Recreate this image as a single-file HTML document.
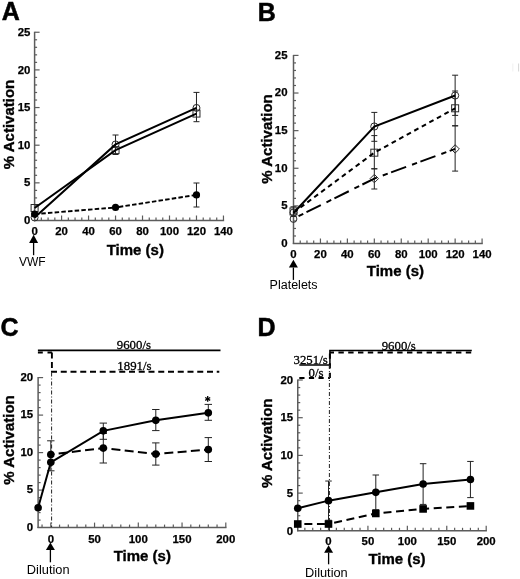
<!DOCTYPE html>
<html><head><meta charset="utf-8"><style>
html,body{margin:0;padding:0;background:#fff;}
body{width:520px;height:579px;overflow:hidden;font-family:"Liberation Sans",sans-serif;}
svg{display:block;filter:blur(0.3px);}
</style></head><body>
<svg width="520" height="579" viewBox="0 0 520 579">
<rect width="520" height="579" fill="#fff"/>
<line x1="34.60" y1="221.00" x2="34.60" y2="31.75" stroke="#5c5c5c" stroke-width="1.5" stroke-linecap="butt"/>
<line x1="34.60" y1="212.97" x2="37.10" y2="212.97" stroke="#5c5c5c" stroke-width="1.2" stroke-linecap="butt"/>
<line x1="34.60" y1="205.44" x2="37.10" y2="205.44" stroke="#5c5c5c" stroke-width="1.2" stroke-linecap="butt"/>
<line x1="34.60" y1="197.91" x2="37.10" y2="197.91" stroke="#5c5c5c" stroke-width="1.2" stroke-linecap="butt"/>
<line x1="34.60" y1="190.38" x2="37.10" y2="190.38" stroke="#5c5c5c" stroke-width="1.2" stroke-linecap="butt"/>
<line x1="34.60" y1="182.85" x2="39.60" y2="182.85" stroke="#5c5c5c" stroke-width="1.2" stroke-linecap="butt"/>
<line x1="34.60" y1="175.32" x2="37.10" y2="175.32" stroke="#5c5c5c" stroke-width="1.2" stroke-linecap="butt"/>
<line x1="34.60" y1="167.79" x2="37.10" y2="167.79" stroke="#5c5c5c" stroke-width="1.2" stroke-linecap="butt"/>
<line x1="34.60" y1="160.26" x2="37.10" y2="160.26" stroke="#5c5c5c" stroke-width="1.2" stroke-linecap="butt"/>
<line x1="34.60" y1="152.73" x2="37.10" y2="152.73" stroke="#5c5c5c" stroke-width="1.2" stroke-linecap="butt"/>
<line x1="34.60" y1="145.20" x2="39.60" y2="145.20" stroke="#5c5c5c" stroke-width="1.2" stroke-linecap="butt"/>
<line x1="34.60" y1="137.67" x2="37.10" y2="137.67" stroke="#5c5c5c" stroke-width="1.2" stroke-linecap="butt"/>
<line x1="34.60" y1="130.14" x2="37.10" y2="130.14" stroke="#5c5c5c" stroke-width="1.2" stroke-linecap="butt"/>
<line x1="34.60" y1="122.61" x2="37.10" y2="122.61" stroke="#5c5c5c" stroke-width="1.2" stroke-linecap="butt"/>
<line x1="34.60" y1="115.08" x2="37.10" y2="115.08" stroke="#5c5c5c" stroke-width="1.2" stroke-linecap="butt"/>
<line x1="34.60" y1="107.55" x2="39.60" y2="107.55" stroke="#5c5c5c" stroke-width="1.2" stroke-linecap="butt"/>
<line x1="34.60" y1="100.02" x2="37.10" y2="100.02" stroke="#5c5c5c" stroke-width="1.2" stroke-linecap="butt"/>
<line x1="34.60" y1="92.49" x2="37.10" y2="92.49" stroke="#5c5c5c" stroke-width="1.2" stroke-linecap="butt"/>
<line x1="34.60" y1="84.96" x2="37.10" y2="84.96" stroke="#5c5c5c" stroke-width="1.2" stroke-linecap="butt"/>
<line x1="34.60" y1="77.43" x2="37.10" y2="77.43" stroke="#5c5c5c" stroke-width="1.2" stroke-linecap="butt"/>
<line x1="34.60" y1="69.90" x2="39.60" y2="69.90" stroke="#5c5c5c" stroke-width="1.2" stroke-linecap="butt"/>
<line x1="34.60" y1="62.37" x2="37.10" y2="62.37" stroke="#5c5c5c" stroke-width="1.2" stroke-linecap="butt"/>
<line x1="34.60" y1="54.84" x2="37.10" y2="54.84" stroke="#5c5c5c" stroke-width="1.2" stroke-linecap="butt"/>
<line x1="34.60" y1="47.31" x2="37.10" y2="47.31" stroke="#5c5c5c" stroke-width="1.2" stroke-linecap="butt"/>
<line x1="34.60" y1="39.78" x2="37.10" y2="39.78" stroke="#5c5c5c" stroke-width="1.2" stroke-linecap="butt"/>
<line x1="34.60" y1="32.25" x2="39.60" y2="32.25" stroke="#5c5c5c" stroke-width="1.2" stroke-linecap="butt"/>
<line x1="33.90" y1="220.50" x2="224.16" y2="220.50" stroke="#5c5c5c" stroke-width="1.5" stroke-linecap="butt"/>
<line x1="41.34" y1="220.50" x2="41.34" y2="217.50" stroke="#5c5c5c" stroke-width="1.2" stroke-linecap="butt"/>
<line x1="48.09" y1="220.50" x2="48.09" y2="217.50" stroke="#5c5c5c" stroke-width="1.2" stroke-linecap="butt"/>
<line x1="54.84" y1="220.50" x2="54.84" y2="217.50" stroke="#5c5c5c" stroke-width="1.2" stroke-linecap="butt"/>
<line x1="61.58" y1="220.50" x2="61.58" y2="215.50" stroke="#5c5c5c" stroke-width="1.2" stroke-linecap="butt"/>
<line x1="68.33" y1="220.50" x2="68.33" y2="217.50" stroke="#5c5c5c" stroke-width="1.2" stroke-linecap="butt"/>
<line x1="75.07" y1="220.50" x2="75.07" y2="217.50" stroke="#5c5c5c" stroke-width="1.2" stroke-linecap="butt"/>
<line x1="81.81" y1="220.50" x2="81.81" y2="217.50" stroke="#5c5c5c" stroke-width="1.2" stroke-linecap="butt"/>
<line x1="88.56" y1="220.50" x2="88.56" y2="215.50" stroke="#5c5c5c" stroke-width="1.2" stroke-linecap="butt"/>
<line x1="95.31" y1="220.50" x2="95.31" y2="217.50" stroke="#5c5c5c" stroke-width="1.2" stroke-linecap="butt"/>
<line x1="102.05" y1="220.50" x2="102.05" y2="217.50" stroke="#5c5c5c" stroke-width="1.2" stroke-linecap="butt"/>
<line x1="108.79" y1="220.50" x2="108.79" y2="217.50" stroke="#5c5c5c" stroke-width="1.2" stroke-linecap="butt"/>
<line x1="115.54" y1="220.50" x2="115.54" y2="215.50" stroke="#5c5c5c" stroke-width="1.2" stroke-linecap="butt"/>
<line x1="122.28" y1="220.50" x2="122.28" y2="217.50" stroke="#5c5c5c" stroke-width="1.2" stroke-linecap="butt"/>
<line x1="129.03" y1="220.50" x2="129.03" y2="217.50" stroke="#5c5c5c" stroke-width="1.2" stroke-linecap="butt"/>
<line x1="135.78" y1="220.50" x2="135.78" y2="217.50" stroke="#5c5c5c" stroke-width="1.2" stroke-linecap="butt"/>
<line x1="142.52" y1="220.50" x2="142.52" y2="215.50" stroke="#5c5c5c" stroke-width="1.2" stroke-linecap="butt"/>
<line x1="149.26" y1="220.50" x2="149.26" y2="217.50" stroke="#5c5c5c" stroke-width="1.2" stroke-linecap="butt"/>
<line x1="156.01" y1="220.50" x2="156.01" y2="217.50" stroke="#5c5c5c" stroke-width="1.2" stroke-linecap="butt"/>
<line x1="162.75" y1="220.50" x2="162.75" y2="217.50" stroke="#5c5c5c" stroke-width="1.2" stroke-linecap="butt"/>
<line x1="169.50" y1="220.50" x2="169.50" y2="215.50" stroke="#5c5c5c" stroke-width="1.2" stroke-linecap="butt"/>
<line x1="176.25" y1="220.50" x2="176.25" y2="217.50" stroke="#5c5c5c" stroke-width="1.2" stroke-linecap="butt"/>
<line x1="182.99" y1="220.50" x2="182.99" y2="217.50" stroke="#5c5c5c" stroke-width="1.2" stroke-linecap="butt"/>
<line x1="189.73" y1="220.50" x2="189.73" y2="217.50" stroke="#5c5c5c" stroke-width="1.2" stroke-linecap="butt"/>
<line x1="196.48" y1="220.50" x2="196.48" y2="215.50" stroke="#5c5c5c" stroke-width="1.2" stroke-linecap="butt"/>
<line x1="203.22" y1="220.50" x2="203.22" y2="217.50" stroke="#5c5c5c" stroke-width="1.2" stroke-linecap="butt"/>
<line x1="209.97" y1="220.50" x2="209.97" y2="217.50" stroke="#5c5c5c" stroke-width="1.2" stroke-linecap="butt"/>
<line x1="216.72" y1="220.50" x2="216.72" y2="217.50" stroke="#5c5c5c" stroke-width="1.2" stroke-linecap="butt"/>
<line x1="223.46" y1="220.50" x2="223.46" y2="215.50" stroke="#5c5c5c" stroke-width="1.2" stroke-linecap="butt"/>
<text x="34.60" y="234.80" font-family="Liberation Sans, sans-serif" font-size="11.4" font-weight="bold" text-anchor="middle" stroke="#000" stroke-width="0.25">0</text>
<text x="61.58" y="234.80" font-family="Liberation Sans, sans-serif" font-size="11.4" font-weight="bold" text-anchor="middle" stroke="#000" stroke-width="0.25">20</text>
<text x="88.56" y="234.80" font-family="Liberation Sans, sans-serif" font-size="11.4" font-weight="bold" text-anchor="middle" stroke="#000" stroke-width="0.25">40</text>
<text x="115.54" y="234.80" font-family="Liberation Sans, sans-serif" font-size="11.4" font-weight="bold" text-anchor="middle" stroke="#000" stroke-width="0.25">60</text>
<text x="142.52" y="234.80" font-family="Liberation Sans, sans-serif" font-size="11.4" font-weight="bold" text-anchor="middle" stroke="#000" stroke-width="0.25">80</text>
<text x="169.50" y="234.80" font-family="Liberation Sans, sans-serif" font-size="11.4" font-weight="bold" text-anchor="middle" stroke="#000" stroke-width="0.25">100</text>
<text x="196.48" y="234.80" font-family="Liberation Sans, sans-serif" font-size="11.4" font-weight="bold" text-anchor="middle" stroke="#000" stroke-width="0.25">120</text>
<text x="223.46" y="234.80" font-family="Liberation Sans, sans-serif" font-size="11.4" font-weight="bold" text-anchor="middle" stroke="#000" stroke-width="0.25">140</text>
<text x="30.30" y="224.10" font-family="Liberation Sans, sans-serif" font-size="11.4" font-weight="bold" text-anchor="end" stroke="#000" stroke-width="0.25">0</text>
<text x="30.30" y="186.45" font-family="Liberation Sans, sans-serif" font-size="11.4" font-weight="bold" text-anchor="end" stroke="#000" stroke-width="0.25">5</text>
<text x="30.30" y="148.80" font-family="Liberation Sans, sans-serif" font-size="11.4" font-weight="bold" text-anchor="end" stroke="#000" stroke-width="0.25">10</text>
<text x="30.30" y="111.15" font-family="Liberation Sans, sans-serif" font-size="11.4" font-weight="bold" text-anchor="end" stroke="#000" stroke-width="0.25">15</text>
<text x="30.30" y="73.50" font-family="Liberation Sans, sans-serif" font-size="11.4" font-weight="bold" text-anchor="end" stroke="#000" stroke-width="0.25">20</text>
<text x="30.30" y="35.85" font-family="Liberation Sans, sans-serif" font-size="11.4" font-weight="bold" text-anchor="end" stroke="#000" stroke-width="0.25">25</text>
<line x1="293.50" y1="244.00" x2="293.50" y2="54.90" stroke="#5c5c5c" stroke-width="1.5" stroke-linecap="butt"/>
<line x1="293.50" y1="235.98" x2="296.00" y2="235.98" stroke="#5c5c5c" stroke-width="1.2" stroke-linecap="butt"/>
<line x1="293.50" y1="228.45" x2="296.00" y2="228.45" stroke="#5c5c5c" stroke-width="1.2" stroke-linecap="butt"/>
<line x1="293.50" y1="220.93" x2="296.00" y2="220.93" stroke="#5c5c5c" stroke-width="1.2" stroke-linecap="butt"/>
<line x1="293.50" y1="213.40" x2="296.00" y2="213.40" stroke="#5c5c5c" stroke-width="1.2" stroke-linecap="butt"/>
<line x1="293.50" y1="205.88" x2="298.50" y2="205.88" stroke="#5c5c5c" stroke-width="1.2" stroke-linecap="butt"/>
<line x1="293.50" y1="198.36" x2="296.00" y2="198.36" stroke="#5c5c5c" stroke-width="1.2" stroke-linecap="butt"/>
<line x1="293.50" y1="190.83" x2="296.00" y2="190.83" stroke="#5c5c5c" stroke-width="1.2" stroke-linecap="butt"/>
<line x1="293.50" y1="183.31" x2="296.00" y2="183.31" stroke="#5c5c5c" stroke-width="1.2" stroke-linecap="butt"/>
<line x1="293.50" y1="175.78" x2="296.00" y2="175.78" stroke="#5c5c5c" stroke-width="1.2" stroke-linecap="butt"/>
<line x1="293.50" y1="168.26" x2="298.50" y2="168.26" stroke="#5c5c5c" stroke-width="1.2" stroke-linecap="butt"/>
<line x1="293.50" y1="160.74" x2="296.00" y2="160.74" stroke="#5c5c5c" stroke-width="1.2" stroke-linecap="butt"/>
<line x1="293.50" y1="153.21" x2="296.00" y2="153.21" stroke="#5c5c5c" stroke-width="1.2" stroke-linecap="butt"/>
<line x1="293.50" y1="145.69" x2="296.00" y2="145.69" stroke="#5c5c5c" stroke-width="1.2" stroke-linecap="butt"/>
<line x1="293.50" y1="138.16" x2="296.00" y2="138.16" stroke="#5c5c5c" stroke-width="1.2" stroke-linecap="butt"/>
<line x1="293.50" y1="130.64" x2="298.50" y2="130.64" stroke="#5c5c5c" stroke-width="1.2" stroke-linecap="butt"/>
<line x1="293.50" y1="123.12" x2="296.00" y2="123.12" stroke="#5c5c5c" stroke-width="1.2" stroke-linecap="butt"/>
<line x1="293.50" y1="115.59" x2="296.00" y2="115.59" stroke="#5c5c5c" stroke-width="1.2" stroke-linecap="butt"/>
<line x1="293.50" y1="108.07" x2="296.00" y2="108.07" stroke="#5c5c5c" stroke-width="1.2" stroke-linecap="butt"/>
<line x1="293.50" y1="100.54" x2="296.00" y2="100.54" stroke="#5c5c5c" stroke-width="1.2" stroke-linecap="butt"/>
<line x1="293.50" y1="93.02" x2="298.50" y2="93.02" stroke="#5c5c5c" stroke-width="1.2" stroke-linecap="butt"/>
<line x1="293.50" y1="85.50" x2="296.00" y2="85.50" stroke="#5c5c5c" stroke-width="1.2" stroke-linecap="butt"/>
<line x1="293.50" y1="77.97" x2="296.00" y2="77.97" stroke="#5c5c5c" stroke-width="1.2" stroke-linecap="butt"/>
<line x1="293.50" y1="70.45" x2="296.00" y2="70.45" stroke="#5c5c5c" stroke-width="1.2" stroke-linecap="butt"/>
<line x1="293.50" y1="62.92" x2="296.00" y2="62.92" stroke="#5c5c5c" stroke-width="1.2" stroke-linecap="butt"/>
<line x1="293.50" y1="55.40" x2="298.50" y2="55.40" stroke="#5c5c5c" stroke-width="1.2" stroke-linecap="butt"/>
<line x1="292.80" y1="243.50" x2="482.78" y2="243.50" stroke="#5c5c5c" stroke-width="1.5" stroke-linecap="butt"/>
<line x1="300.24" y1="243.50" x2="300.24" y2="240.50" stroke="#5c5c5c" stroke-width="1.2" stroke-linecap="butt"/>
<line x1="306.97" y1="243.50" x2="306.97" y2="240.50" stroke="#5c5c5c" stroke-width="1.2" stroke-linecap="butt"/>
<line x1="313.70" y1="243.50" x2="313.70" y2="240.50" stroke="#5c5c5c" stroke-width="1.2" stroke-linecap="butt"/>
<line x1="320.44" y1="243.50" x2="320.44" y2="238.50" stroke="#5c5c5c" stroke-width="1.2" stroke-linecap="butt"/>
<line x1="327.18" y1="243.50" x2="327.18" y2="240.50" stroke="#5c5c5c" stroke-width="1.2" stroke-linecap="butt"/>
<line x1="333.91" y1="243.50" x2="333.91" y2="240.50" stroke="#5c5c5c" stroke-width="1.2" stroke-linecap="butt"/>
<line x1="340.64" y1="243.50" x2="340.64" y2="240.50" stroke="#5c5c5c" stroke-width="1.2" stroke-linecap="butt"/>
<line x1="347.38" y1="243.50" x2="347.38" y2="238.50" stroke="#5c5c5c" stroke-width="1.2" stroke-linecap="butt"/>
<line x1="354.12" y1="243.50" x2="354.12" y2="240.50" stroke="#5c5c5c" stroke-width="1.2" stroke-linecap="butt"/>
<line x1="360.85" y1="243.50" x2="360.85" y2="240.50" stroke="#5c5c5c" stroke-width="1.2" stroke-linecap="butt"/>
<line x1="367.58" y1="243.50" x2="367.58" y2="240.50" stroke="#5c5c5c" stroke-width="1.2" stroke-linecap="butt"/>
<line x1="374.32" y1="243.50" x2="374.32" y2="238.50" stroke="#5c5c5c" stroke-width="1.2" stroke-linecap="butt"/>
<line x1="381.06" y1="243.50" x2="381.06" y2="240.50" stroke="#5c5c5c" stroke-width="1.2" stroke-linecap="butt"/>
<line x1="387.79" y1="243.50" x2="387.79" y2="240.50" stroke="#5c5c5c" stroke-width="1.2" stroke-linecap="butt"/>
<line x1="394.52" y1="243.50" x2="394.52" y2="240.50" stroke="#5c5c5c" stroke-width="1.2" stroke-linecap="butt"/>
<line x1="401.26" y1="243.50" x2="401.26" y2="238.50" stroke="#5c5c5c" stroke-width="1.2" stroke-linecap="butt"/>
<line x1="408.00" y1="243.50" x2="408.00" y2="240.50" stroke="#5c5c5c" stroke-width="1.2" stroke-linecap="butt"/>
<line x1="414.73" y1="243.50" x2="414.73" y2="240.50" stroke="#5c5c5c" stroke-width="1.2" stroke-linecap="butt"/>
<line x1="421.47" y1="243.50" x2="421.47" y2="240.50" stroke="#5c5c5c" stroke-width="1.2" stroke-linecap="butt"/>
<line x1="428.20" y1="243.50" x2="428.20" y2="238.50" stroke="#5c5c5c" stroke-width="1.2" stroke-linecap="butt"/>
<line x1="434.94" y1="243.50" x2="434.94" y2="240.50" stroke="#5c5c5c" stroke-width="1.2" stroke-linecap="butt"/>
<line x1="441.67" y1="243.50" x2="441.67" y2="240.50" stroke="#5c5c5c" stroke-width="1.2" stroke-linecap="butt"/>
<line x1="448.40" y1="243.50" x2="448.40" y2="240.50" stroke="#5c5c5c" stroke-width="1.2" stroke-linecap="butt"/>
<line x1="455.14" y1="243.50" x2="455.14" y2="238.50" stroke="#5c5c5c" stroke-width="1.2" stroke-linecap="butt"/>
<line x1="461.88" y1="243.50" x2="461.88" y2="240.50" stroke="#5c5c5c" stroke-width="1.2" stroke-linecap="butt"/>
<line x1="468.61" y1="243.50" x2="468.61" y2="240.50" stroke="#5c5c5c" stroke-width="1.2" stroke-linecap="butt"/>
<line x1="475.35" y1="243.50" x2="475.35" y2="240.50" stroke="#5c5c5c" stroke-width="1.2" stroke-linecap="butt"/>
<line x1="482.08" y1="243.50" x2="482.08" y2="238.50" stroke="#5c5c5c" stroke-width="1.2" stroke-linecap="butt"/>
<text x="293.50" y="257.90" font-family="Liberation Sans, sans-serif" font-size="11.4" font-weight="bold" text-anchor="middle" stroke="#000" stroke-width="0.25">0</text>
<text x="320.44" y="257.90" font-family="Liberation Sans, sans-serif" font-size="11.4" font-weight="bold" text-anchor="middle" stroke="#000" stroke-width="0.25">20</text>
<text x="347.38" y="257.90" font-family="Liberation Sans, sans-serif" font-size="11.4" font-weight="bold" text-anchor="middle" stroke="#000" stroke-width="0.25">40</text>
<text x="374.32" y="257.90" font-family="Liberation Sans, sans-serif" font-size="11.4" font-weight="bold" text-anchor="middle" stroke="#000" stroke-width="0.25">60</text>
<text x="401.26" y="257.90" font-family="Liberation Sans, sans-serif" font-size="11.4" font-weight="bold" text-anchor="middle" stroke="#000" stroke-width="0.25">80</text>
<text x="428.20" y="257.90" font-family="Liberation Sans, sans-serif" font-size="11.4" font-weight="bold" text-anchor="middle" stroke="#000" stroke-width="0.25">100</text>
<text x="455.14" y="257.90" font-family="Liberation Sans, sans-serif" font-size="11.4" font-weight="bold" text-anchor="middle" stroke="#000" stroke-width="0.25">120</text>
<text x="482.08" y="257.90" font-family="Liberation Sans, sans-serif" font-size="11.4" font-weight="bold" text-anchor="middle" stroke="#000" stroke-width="0.25">140</text>
<text x="287.50" y="246.80" font-family="Liberation Sans, sans-serif" font-size="11.4" font-weight="bold" text-anchor="end" stroke="#000" stroke-width="0.25">0</text>
<text x="287.50" y="209.18" font-family="Liberation Sans, sans-serif" font-size="11.4" font-weight="bold" text-anchor="end" stroke="#000" stroke-width="0.25">5</text>
<text x="287.50" y="171.56" font-family="Liberation Sans, sans-serif" font-size="11.4" font-weight="bold" text-anchor="end" stroke="#000" stroke-width="0.25">10</text>
<text x="287.50" y="133.94" font-family="Liberation Sans, sans-serif" font-size="11.4" font-weight="bold" text-anchor="end" stroke="#000" stroke-width="0.25">15</text>
<text x="287.50" y="96.32" font-family="Liberation Sans, sans-serif" font-size="11.4" font-weight="bold" text-anchor="end" stroke="#000" stroke-width="0.25">20</text>
<text x="287.50" y="58.70" font-family="Liberation Sans, sans-serif" font-size="11.4" font-weight="bold" text-anchor="end" stroke="#000" stroke-width="0.25">25</text>
<line x1="38.11" y1="528.10" x2="38.11" y2="377.10" stroke="#5c5c5c" stroke-width="1.5" stroke-linecap="butt"/>
<line x1="38.11" y1="520.10" x2="40.61" y2="520.10" stroke="#5c5c5c" stroke-width="1.2" stroke-linecap="butt"/>
<line x1="38.11" y1="512.60" x2="40.61" y2="512.60" stroke="#5c5c5c" stroke-width="1.2" stroke-linecap="butt"/>
<line x1="38.11" y1="505.10" x2="40.61" y2="505.10" stroke="#5c5c5c" stroke-width="1.2" stroke-linecap="butt"/>
<line x1="38.11" y1="497.60" x2="40.61" y2="497.60" stroke="#5c5c5c" stroke-width="1.2" stroke-linecap="butt"/>
<line x1="38.11" y1="490.10" x2="43.11" y2="490.10" stroke="#5c5c5c" stroke-width="1.2" stroke-linecap="butt"/>
<line x1="38.11" y1="482.60" x2="40.61" y2="482.60" stroke="#5c5c5c" stroke-width="1.2" stroke-linecap="butt"/>
<line x1="38.11" y1="475.10" x2="40.61" y2="475.10" stroke="#5c5c5c" stroke-width="1.2" stroke-linecap="butt"/>
<line x1="38.11" y1="467.60" x2="40.61" y2="467.60" stroke="#5c5c5c" stroke-width="1.2" stroke-linecap="butt"/>
<line x1="38.11" y1="460.10" x2="40.61" y2="460.10" stroke="#5c5c5c" stroke-width="1.2" stroke-linecap="butt"/>
<line x1="38.11" y1="452.60" x2="43.11" y2="452.60" stroke="#5c5c5c" stroke-width="1.2" stroke-linecap="butt"/>
<line x1="38.11" y1="445.10" x2="40.61" y2="445.10" stroke="#5c5c5c" stroke-width="1.2" stroke-linecap="butt"/>
<line x1="38.11" y1="437.60" x2="40.61" y2="437.60" stroke="#5c5c5c" stroke-width="1.2" stroke-linecap="butt"/>
<line x1="38.11" y1="430.10" x2="40.61" y2="430.10" stroke="#5c5c5c" stroke-width="1.2" stroke-linecap="butt"/>
<line x1="38.11" y1="422.60" x2="40.61" y2="422.60" stroke="#5c5c5c" stroke-width="1.2" stroke-linecap="butt"/>
<line x1="38.11" y1="415.10" x2="43.11" y2="415.10" stroke="#5c5c5c" stroke-width="1.2" stroke-linecap="butt"/>
<line x1="38.11" y1="407.60" x2="40.61" y2="407.60" stroke="#5c5c5c" stroke-width="1.2" stroke-linecap="butt"/>
<line x1="38.11" y1="400.10" x2="40.61" y2="400.10" stroke="#5c5c5c" stroke-width="1.2" stroke-linecap="butt"/>
<line x1="38.11" y1="392.60" x2="40.61" y2="392.60" stroke="#5c5c5c" stroke-width="1.2" stroke-linecap="butt"/>
<line x1="38.11" y1="385.10" x2="40.61" y2="385.10" stroke="#5c5c5c" stroke-width="1.2" stroke-linecap="butt"/>
<line x1="38.11" y1="377.60" x2="43.11" y2="377.60" stroke="#5c5c5c" stroke-width="1.2" stroke-linecap="butt"/>
<line x1="37.41" y1="527.60" x2="226.50" y2="527.60" stroke="#5c5c5c" stroke-width="1.5" stroke-linecap="butt"/>
<line x1="42.05" y1="527.60" x2="42.05" y2="524.60" stroke="#5c5c5c" stroke-width="1.2" stroke-linecap="butt"/>
<line x1="50.80" y1="527.60" x2="50.80" y2="522.60" stroke="#5c5c5c" stroke-width="1.2" stroke-linecap="butt"/>
<line x1="59.55" y1="527.60" x2="59.55" y2="524.60" stroke="#5c5c5c" stroke-width="1.2" stroke-linecap="butt"/>
<line x1="68.30" y1="527.60" x2="68.30" y2="524.60" stroke="#5c5c5c" stroke-width="1.2" stroke-linecap="butt"/>
<line x1="77.05" y1="527.60" x2="77.05" y2="524.60" stroke="#5c5c5c" stroke-width="1.2" stroke-linecap="butt"/>
<line x1="85.80" y1="527.60" x2="85.80" y2="524.60" stroke="#5c5c5c" stroke-width="1.2" stroke-linecap="butt"/>
<line x1="94.55" y1="527.60" x2="94.55" y2="522.60" stroke="#5c5c5c" stroke-width="1.2" stroke-linecap="butt"/>
<line x1="103.30" y1="527.60" x2="103.30" y2="524.60" stroke="#5c5c5c" stroke-width="1.2" stroke-linecap="butt"/>
<line x1="112.05" y1="527.60" x2="112.05" y2="524.60" stroke="#5c5c5c" stroke-width="1.2" stroke-linecap="butt"/>
<line x1="120.80" y1="527.60" x2="120.80" y2="524.60" stroke="#5c5c5c" stroke-width="1.2" stroke-linecap="butt"/>
<line x1="129.55" y1="527.60" x2="129.55" y2="524.60" stroke="#5c5c5c" stroke-width="1.2" stroke-linecap="butt"/>
<line x1="138.30" y1="527.60" x2="138.30" y2="522.60" stroke="#5c5c5c" stroke-width="1.2" stroke-linecap="butt"/>
<line x1="147.05" y1="527.60" x2="147.05" y2="524.60" stroke="#5c5c5c" stroke-width="1.2" stroke-linecap="butt"/>
<line x1="155.80" y1="527.60" x2="155.80" y2="524.60" stroke="#5c5c5c" stroke-width="1.2" stroke-linecap="butt"/>
<line x1="164.55" y1="527.60" x2="164.55" y2="524.60" stroke="#5c5c5c" stroke-width="1.2" stroke-linecap="butt"/>
<line x1="173.30" y1="527.60" x2="173.30" y2="524.60" stroke="#5c5c5c" stroke-width="1.2" stroke-linecap="butt"/>
<line x1="182.05" y1="527.60" x2="182.05" y2="522.60" stroke="#5c5c5c" stroke-width="1.2" stroke-linecap="butt"/>
<line x1="190.80" y1="527.60" x2="190.80" y2="524.60" stroke="#5c5c5c" stroke-width="1.2" stroke-linecap="butt"/>
<line x1="199.55" y1="527.60" x2="199.55" y2="524.60" stroke="#5c5c5c" stroke-width="1.2" stroke-linecap="butt"/>
<line x1="208.30" y1="527.60" x2="208.30" y2="524.60" stroke="#5c5c5c" stroke-width="1.2" stroke-linecap="butt"/>
<line x1="217.05" y1="527.60" x2="217.05" y2="524.60" stroke="#5c5c5c" stroke-width="1.2" stroke-linecap="butt"/>
<line x1="225.80" y1="527.60" x2="225.80" y2="522.60" stroke="#5c5c5c" stroke-width="1.2" stroke-linecap="butt"/>
<text x="50.80" y="543.10" font-family="Liberation Sans, sans-serif" font-size="11.4" font-weight="bold" text-anchor="middle" stroke="#000" stroke-width="0.25">0</text>
<text x="94.55" y="543.10" font-family="Liberation Sans, sans-serif" font-size="11.4" font-weight="bold" text-anchor="middle" stroke="#000" stroke-width="0.25">50</text>
<text x="138.30" y="543.10" font-family="Liberation Sans, sans-serif" font-size="11.4" font-weight="bold" text-anchor="middle" stroke="#000" stroke-width="0.25">100</text>
<text x="182.05" y="543.10" font-family="Liberation Sans, sans-serif" font-size="11.4" font-weight="bold" text-anchor="middle" stroke="#000" stroke-width="0.25">150</text>
<text x="225.80" y="543.10" font-family="Liberation Sans, sans-serif" font-size="11.4" font-weight="bold" text-anchor="middle" stroke="#000" stroke-width="0.25">200</text>
<text x="33.10" y="530.90" font-family="Liberation Sans, sans-serif" font-size="11.4" font-weight="bold" text-anchor="end" stroke="#000" stroke-width="0.25">0</text>
<text x="33.10" y="493.40" font-family="Liberation Sans, sans-serif" font-size="11.4" font-weight="bold" text-anchor="end" stroke="#000" stroke-width="0.25">5</text>
<text x="33.10" y="455.90" font-family="Liberation Sans, sans-serif" font-size="11.4" font-weight="bold" text-anchor="end" stroke="#000" stroke-width="0.25">10</text>
<text x="33.10" y="418.40" font-family="Liberation Sans, sans-serif" font-size="11.4" font-weight="bold" text-anchor="end" stroke="#000" stroke-width="0.25">15</text>
<text x="33.10" y="380.90" font-family="Liberation Sans, sans-serif" font-size="11.4" font-weight="bold" text-anchor="end" stroke="#000" stroke-width="0.25">20</text>
<line x1="297.75" y1="531.30" x2="297.75" y2="379.50" stroke="#5c5c5c" stroke-width="1.5" stroke-linecap="butt"/>
<line x1="297.75" y1="523.26" x2="300.25" y2="523.26" stroke="#5c5c5c" stroke-width="1.2" stroke-linecap="butt"/>
<line x1="297.75" y1="515.72" x2="300.25" y2="515.72" stroke="#5c5c5c" stroke-width="1.2" stroke-linecap="butt"/>
<line x1="297.75" y1="508.18" x2="300.25" y2="508.18" stroke="#5c5c5c" stroke-width="1.2" stroke-linecap="butt"/>
<line x1="297.75" y1="500.64" x2="300.25" y2="500.64" stroke="#5c5c5c" stroke-width="1.2" stroke-linecap="butt"/>
<line x1="297.75" y1="493.10" x2="302.75" y2="493.10" stroke="#5c5c5c" stroke-width="1.2" stroke-linecap="butt"/>
<line x1="297.75" y1="485.56" x2="300.25" y2="485.56" stroke="#5c5c5c" stroke-width="1.2" stroke-linecap="butt"/>
<line x1="297.75" y1="478.02" x2="300.25" y2="478.02" stroke="#5c5c5c" stroke-width="1.2" stroke-linecap="butt"/>
<line x1="297.75" y1="470.48" x2="300.25" y2="470.48" stroke="#5c5c5c" stroke-width="1.2" stroke-linecap="butt"/>
<line x1="297.75" y1="462.94" x2="300.25" y2="462.94" stroke="#5c5c5c" stroke-width="1.2" stroke-linecap="butt"/>
<line x1="297.75" y1="455.40" x2="302.75" y2="455.40" stroke="#5c5c5c" stroke-width="1.2" stroke-linecap="butt"/>
<line x1="297.75" y1="447.86" x2="300.25" y2="447.86" stroke="#5c5c5c" stroke-width="1.2" stroke-linecap="butt"/>
<line x1="297.75" y1="440.32" x2="300.25" y2="440.32" stroke="#5c5c5c" stroke-width="1.2" stroke-linecap="butt"/>
<line x1="297.75" y1="432.78" x2="300.25" y2="432.78" stroke="#5c5c5c" stroke-width="1.2" stroke-linecap="butt"/>
<line x1="297.75" y1="425.24" x2="300.25" y2="425.24" stroke="#5c5c5c" stroke-width="1.2" stroke-linecap="butt"/>
<line x1="297.75" y1="417.70" x2="302.75" y2="417.70" stroke="#5c5c5c" stroke-width="1.2" stroke-linecap="butt"/>
<line x1="297.75" y1="410.16" x2="300.25" y2="410.16" stroke="#5c5c5c" stroke-width="1.2" stroke-linecap="butt"/>
<line x1="297.75" y1="402.62" x2="300.25" y2="402.62" stroke="#5c5c5c" stroke-width="1.2" stroke-linecap="butt"/>
<line x1="297.75" y1="395.08" x2="300.25" y2="395.08" stroke="#5c5c5c" stroke-width="1.2" stroke-linecap="butt"/>
<line x1="297.75" y1="387.54" x2="300.25" y2="387.54" stroke="#5c5c5c" stroke-width="1.2" stroke-linecap="butt"/>
<line x1="297.75" y1="380.00" x2="302.75" y2="380.00" stroke="#5c5c5c" stroke-width="1.2" stroke-linecap="butt"/>
<line x1="297.05" y1="530.80" x2="486.90" y2="530.80" stroke="#5c5c5c" stroke-width="1.5" stroke-linecap="butt"/>
<line x1="304.85" y1="530.80" x2="304.85" y2="527.80" stroke="#5c5c5c" stroke-width="1.2" stroke-linecap="butt"/>
<line x1="312.73" y1="530.80" x2="312.73" y2="527.80" stroke="#5c5c5c" stroke-width="1.2" stroke-linecap="butt"/>
<line x1="320.62" y1="530.80" x2="320.62" y2="527.80" stroke="#5c5c5c" stroke-width="1.2" stroke-linecap="butt"/>
<line x1="328.50" y1="530.80" x2="328.50" y2="525.80" stroke="#5c5c5c" stroke-width="1.2" stroke-linecap="butt"/>
<line x1="336.38" y1="530.80" x2="336.38" y2="527.80" stroke="#5c5c5c" stroke-width="1.2" stroke-linecap="butt"/>
<line x1="344.27" y1="530.80" x2="344.27" y2="527.80" stroke="#5c5c5c" stroke-width="1.2" stroke-linecap="butt"/>
<line x1="352.15" y1="530.80" x2="352.15" y2="527.80" stroke="#5c5c5c" stroke-width="1.2" stroke-linecap="butt"/>
<line x1="360.04" y1="530.80" x2="360.04" y2="527.80" stroke="#5c5c5c" stroke-width="1.2" stroke-linecap="butt"/>
<line x1="367.93" y1="530.80" x2="367.93" y2="525.80" stroke="#5c5c5c" stroke-width="1.2" stroke-linecap="butt"/>
<line x1="375.81" y1="530.80" x2="375.81" y2="527.80" stroke="#5c5c5c" stroke-width="1.2" stroke-linecap="butt"/>
<line x1="383.69" y1="530.80" x2="383.69" y2="527.80" stroke="#5c5c5c" stroke-width="1.2" stroke-linecap="butt"/>
<line x1="391.58" y1="530.80" x2="391.58" y2="527.80" stroke="#5c5c5c" stroke-width="1.2" stroke-linecap="butt"/>
<line x1="399.47" y1="530.80" x2="399.47" y2="527.80" stroke="#5c5c5c" stroke-width="1.2" stroke-linecap="butt"/>
<line x1="407.35" y1="530.80" x2="407.35" y2="525.80" stroke="#5c5c5c" stroke-width="1.2" stroke-linecap="butt"/>
<line x1="415.24" y1="530.80" x2="415.24" y2="527.80" stroke="#5c5c5c" stroke-width="1.2" stroke-linecap="butt"/>
<line x1="423.12" y1="530.80" x2="423.12" y2="527.80" stroke="#5c5c5c" stroke-width="1.2" stroke-linecap="butt"/>
<line x1="431.00" y1="530.80" x2="431.00" y2="527.80" stroke="#5c5c5c" stroke-width="1.2" stroke-linecap="butt"/>
<line x1="438.89" y1="530.80" x2="438.89" y2="527.80" stroke="#5c5c5c" stroke-width="1.2" stroke-linecap="butt"/>
<line x1="446.77" y1="530.80" x2="446.77" y2="525.80" stroke="#5c5c5c" stroke-width="1.2" stroke-linecap="butt"/>
<line x1="454.66" y1="530.80" x2="454.66" y2="527.80" stroke="#5c5c5c" stroke-width="1.2" stroke-linecap="butt"/>
<line x1="462.54" y1="530.80" x2="462.54" y2="527.80" stroke="#5c5c5c" stroke-width="1.2" stroke-linecap="butt"/>
<line x1="470.43" y1="530.80" x2="470.43" y2="527.80" stroke="#5c5c5c" stroke-width="1.2" stroke-linecap="butt"/>
<line x1="478.31" y1="530.80" x2="478.31" y2="527.80" stroke="#5c5c5c" stroke-width="1.2" stroke-linecap="butt"/>
<line x1="486.20" y1="530.80" x2="486.20" y2="525.80" stroke="#5c5c5c" stroke-width="1.2" stroke-linecap="butt"/>
<text x="328.50" y="544.80" font-family="Liberation Sans, sans-serif" font-size="11.4" font-weight="bold" text-anchor="middle" stroke="#000" stroke-width="0.25">0</text>
<text x="367.93" y="544.80" font-family="Liberation Sans, sans-serif" font-size="11.4" font-weight="bold" text-anchor="middle" stroke="#000" stroke-width="0.25">50</text>
<text x="407.35" y="544.80" font-family="Liberation Sans, sans-serif" font-size="11.4" font-weight="bold" text-anchor="middle" stroke="#000" stroke-width="0.25">100</text>
<text x="446.77" y="544.80" font-family="Liberation Sans, sans-serif" font-size="11.4" font-weight="bold" text-anchor="middle" stroke="#000" stroke-width="0.25">150</text>
<text x="486.20" y="544.80" font-family="Liberation Sans, sans-serif" font-size="11.4" font-weight="bold" text-anchor="middle" stroke="#000" stroke-width="0.25">200</text>
<text x="293.20" y="534.50" font-family="Liberation Sans, sans-serif" font-size="11.4" font-weight="bold" text-anchor="end" stroke="#000" stroke-width="0.25">0</text>
<text x="293.20" y="496.80" font-family="Liberation Sans, sans-serif" font-size="11.4" font-weight="bold" text-anchor="end" stroke="#000" stroke-width="0.25">5</text>
<text x="293.20" y="459.10" font-family="Liberation Sans, sans-serif" font-size="11.4" font-weight="bold" text-anchor="end" stroke="#000" stroke-width="0.25">10</text>
<text x="293.20" y="421.40" font-family="Liberation Sans, sans-serif" font-size="11.4" font-weight="bold" text-anchor="end" stroke="#000" stroke-width="0.25">15</text>
<text x="293.20" y="383.70" font-family="Liberation Sans, sans-serif" font-size="11.4" font-weight="bold" text-anchor="end" stroke="#000" stroke-width="0.25">20</text>
<text x="1.70" y="19.60" font-family="Liberation Sans, sans-serif" font-size="25" font-weight="bold" text-anchor="start" stroke="#000" stroke-width="0.5">A</text>
<text x="257.80" y="21.10" font-family="Liberation Sans, sans-serif" font-size="25" font-weight="bold" text-anchor="start" stroke="#000" stroke-width="0.5">B</text>
<text x="0.40" y="336.30" font-family="Liberation Sans, sans-serif" font-size="25" font-weight="bold" text-anchor="start" stroke="#000" stroke-width="0.5">C</text>
<text x="257.60" y="335.80" font-family="Liberation Sans, sans-serif" font-size="25" font-weight="bold" text-anchor="start" stroke="#000" stroke-width="0.5">D</text>
<text transform="translate(14.00,124.50) rotate(-90)" font-family="Liberation Sans, sans-serif" font-size="15" font-weight="bold" text-anchor="middle" stroke="#000" stroke-width="0.35">% Activation</text>
<text transform="translate(271.50,139.00) rotate(-90)" font-family="Liberation Sans, sans-serif" font-size="15" font-weight="bold" text-anchor="middle" stroke="#000" stroke-width="0.35">% Activation</text>
<text transform="translate(14.00,440.00) rotate(-90)" font-family="Liberation Sans, sans-serif" font-size="15" font-weight="bold" text-anchor="middle" stroke="#000" stroke-width="0.35">% Activation</text>
<text transform="translate(271.50,443.20) rotate(-90)" font-family="Liberation Sans, sans-serif" font-size="15" font-weight="bold" text-anchor="middle" stroke="#000" stroke-width="0.35">% Activation</text>
<text x="135.30" y="254.70" font-family="Liberation Sans, sans-serif" font-size="15" font-weight="bold" text-anchor="middle" stroke="#000" stroke-width="0.35">Time (s)</text>
<text x="395.40" y="275.80" font-family="Liberation Sans, sans-serif" font-size="15" font-weight="bold" text-anchor="middle" stroke="#000" stroke-width="0.35">Time (s)</text>
<text x="142.30" y="561.20" font-family="Liberation Sans, sans-serif" font-size="15" font-weight="bold" text-anchor="middle" stroke="#000" stroke-width="0.35">Time (s)</text>
<text x="397.00" y="563.80" font-family="Liberation Sans, sans-serif" font-size="15" font-weight="bold" text-anchor="middle" stroke="#000" stroke-width="0.35">Time (s)</text>
<polygon points="33.60,234.80 38.10,242.90 29.10,242.90" fill="#000"/>
<line x1="33.60" y1="242.90" x2="33.60" y2="255.20" stroke="#000" stroke-width="1.3" stroke-linecap="butt"/>
<text x="32.30" y="266.30" font-family="Liberation Sans, sans-serif" font-size="12" font-weight="normal" text-anchor="middle">VWF</text>
<polygon points="293.40,259.80 297.90,267.50 288.90,267.50" fill="#000"/>
<line x1="293.40" y1="267.50" x2="293.40" y2="279.90" stroke="#000" stroke-width="1.3" stroke-linecap="butt"/>
<text x="293.60" y="289.30" font-family="Liberation Sans, sans-serif" font-size="12.5" font-weight="normal" text-anchor="middle">Platelets</text>
<polygon points="50.40,542.50 54.90,550.00 45.90,550.00" fill="#000"/>
<line x1="50.40" y1="550.00" x2="50.40" y2="562.30" stroke="#000" stroke-width="1.3" stroke-linecap="butt"/>
<text x="48.20" y="574.00" font-family="Liberation Sans, sans-serif" font-size="12.8" font-weight="normal" text-anchor="middle">Dilution</text>
<polygon points="328.60,545.20 333.10,552.80 324.10,552.80" fill="#000"/>
<line x1="328.60" y1="552.80" x2="328.60" y2="564.30" stroke="#000" stroke-width="1.3" stroke-linecap="butt"/>
<text x="326.40" y="577.00" font-family="Liberation Sans, sans-serif" font-size="12.8" font-weight="normal" text-anchor="middle">Dilution</text>
<line x1="115.54" y1="135.00" x2="115.54" y2="154.50" stroke="#222" stroke-width="1" stroke-linecap="butt"/>
<line x1="112.54" y1="135.00" x2="118.54" y2="135.00" stroke="#222" stroke-width="1" stroke-linecap="butt"/>
<line x1="112.54" y1="154.50" x2="118.54" y2="154.50" stroke="#222" stroke-width="1" stroke-linecap="butt"/>
<line x1="196.48" y1="92.40" x2="196.48" y2="121.70" stroke="#222" stroke-width="1" stroke-linecap="butt"/>
<line x1="193.48" y1="92.40" x2="199.48" y2="92.40" stroke="#222" stroke-width="1" stroke-linecap="butt"/>
<line x1="193.48" y1="121.70" x2="199.48" y2="121.70" stroke="#222" stroke-width="1" stroke-linecap="butt"/>
<line x1="196.48" y1="183.00" x2="196.48" y2="207.00" stroke="#222" stroke-width="1" stroke-linecap="butt"/>
<line x1="193.48" y1="183.00" x2="199.48" y2="183.00" stroke="#222" stroke-width="1" stroke-linecap="butt"/>
<line x1="193.48" y1="207.00" x2="199.48" y2="207.00" stroke="#222" stroke-width="1" stroke-linecap="butt"/>
<circle cx="34.60" cy="217.49" r="3.5" fill="none" stroke="#2a2a2a" stroke-width="1"/>
<circle cx="115.54" cy="144.45" r="3.5" fill="none" stroke="#2a2a2a" stroke-width="1"/>
<circle cx="196.48" cy="107.93" r="3.5" fill="none" stroke="#2a2a2a" stroke-width="1"/>
<rect x="31.10" y="204.50" width="7" height="7" fill="none" stroke="#2a2a2a" stroke-width="1"/>
<rect x="112.04" y="146.59" width="7" height="7" fill="none" stroke="#2a2a2a" stroke-width="1"/>
<rect x="192.98" y="110.07" width="7" height="7" fill="none" stroke="#2a2a2a" stroke-width="1"/>
<polyline points="34.60,217.49 115.54,144.45 196.48,107.93" fill="none" stroke="#000" stroke-width="2.0" stroke-linejoin="miter"/>
<polyline points="34.60,208.00 115.54,150.09 196.48,113.57" fill="none" stroke="#000" stroke-width="2.0" stroke-linejoin="miter"/>
<polyline points="34.60,214.10 115.54,207.47" fill="none" stroke="#000" stroke-width="1.9" stroke-dasharray="4.5,2.2" stroke-dashoffset="0" stroke-linejoin="miter"/>
<polyline points="115.54,207.47 196.48,194.90" fill="none" stroke="#000" stroke-width="1.9" stroke-dasharray="4.5,2.2" stroke-dashoffset="3.4" stroke-linejoin="miter"/>
<circle cx="34.60" cy="214.10" r="3.6" fill="#000" stroke="none" stroke-width="1"/>
<circle cx="115.54" cy="207.47" r="3.6" fill="#000" stroke="none" stroke-width="1"/>
<circle cx="196.48" cy="194.90" r="3.6" fill="#000" stroke="none" stroke-width="1"/>
<line x1="374.32" y1="112.40" x2="374.32" y2="141.30" stroke="#222" stroke-width="1" stroke-linecap="butt"/>
<line x1="371.32" y1="112.40" x2="377.32" y2="112.40" stroke="#222" stroke-width="1" stroke-linecap="butt"/>
<line x1="371.32" y1="141.30" x2="377.32" y2="141.30" stroke="#222" stroke-width="1" stroke-linecap="butt"/>
<line x1="374.32" y1="135.60" x2="374.32" y2="168.80" stroke="#222" stroke-width="1" stroke-linecap="butt"/>
<line x1="371.32" y1="135.60" x2="377.32" y2="135.60" stroke="#222" stroke-width="1" stroke-linecap="butt"/>
<line x1="371.32" y1="168.80" x2="377.32" y2="168.80" stroke="#222" stroke-width="1" stroke-linecap="butt"/>
<line x1="374.32" y1="168.80" x2="374.32" y2="189.00" stroke="#222" stroke-width="1" stroke-linecap="butt"/>
<line x1="371.32" y1="168.80" x2="377.32" y2="168.80" stroke="#222" stroke-width="1" stroke-linecap="butt"/>
<line x1="371.32" y1="189.00" x2="377.32" y2="189.00" stroke="#222" stroke-width="1" stroke-linecap="butt"/>
<line x1="455.14" y1="75.20" x2="455.14" y2="115.40" stroke="#222" stroke-width="1" stroke-linecap="butt"/>
<line x1="452.14" y1="75.20" x2="458.14" y2="75.20" stroke="#222" stroke-width="1" stroke-linecap="butt"/>
<line x1="452.14" y1="115.40" x2="458.14" y2="115.40" stroke="#222" stroke-width="1" stroke-linecap="butt"/>
<line x1="455.14" y1="91.00" x2="455.14" y2="125.80" stroke="#222" stroke-width="1" stroke-linecap="butt"/>
<line x1="452.14" y1="91.00" x2="458.14" y2="91.00" stroke="#222" stroke-width="1" stroke-linecap="butt"/>
<line x1="452.14" y1="125.80" x2="458.14" y2="125.80" stroke="#222" stroke-width="1" stroke-linecap="butt"/>
<line x1="455.14" y1="125.80" x2="455.14" y2="171.10" stroke="#222" stroke-width="1" stroke-linecap="butt"/>
<line x1="452.14" y1="125.80" x2="458.14" y2="125.80" stroke="#222" stroke-width="1" stroke-linecap="butt"/>
<line x1="452.14" y1="171.10" x2="458.14" y2="171.10" stroke="#222" stroke-width="1" stroke-linecap="butt"/>
<line x1="293.50" y1="206.80" x2="293.50" y2="216.50" stroke="#222" stroke-width="1" stroke-linecap="butt"/>
<line x1="290.50" y1="206.80" x2="296.50" y2="206.80" stroke="#222" stroke-width="1" stroke-linecap="butt"/>
<line x1="290.50" y1="216.50" x2="296.50" y2="216.50" stroke="#222" stroke-width="1" stroke-linecap="butt"/>
<circle cx="293.50" cy="212.50" r="3.5" fill="none" stroke="#2a2a2a" stroke-width="1"/>
<rect x="290.00" y="207.90" width="7" height="7" fill="none" stroke="#2a2a2a" stroke-width="1"/>
<circle cx="293.50" cy="219.00" r="3.4" fill="none" stroke="#2a2a2a" stroke-width="1"/>
<circle cx="374.32" cy="126.50" r="3.6" fill="none" stroke="#2a2a2a" stroke-width="1"/>
<circle cx="455.14" cy="95.50" r="3.6" fill="none" stroke="#2a2a2a" stroke-width="1"/>
<rect x="370.82" y="149.19" width="7" height="7" fill="none" stroke="#2a2a2a" stroke-width="1"/>
<rect x="451.64" y="104.79" width="7" height="7" fill="none" stroke="#2a2a2a" stroke-width="1"/>
<polygon points="374.32,174.36788 378.52,178.56788 374.32,182.76788 370.12,178.56788" fill="none" stroke="#2a2a2a" stroke-width="1"/>
<polygon points="455.14,144.72332 459.34,148.92332 455.14,153.12331999999998 450.94,148.92332" fill="none" stroke="#2a2a2a" stroke-width="1"/>
<polyline points="293.50,213.03 374.32,126.50 455.14,95.50" fill="none" stroke="#000" stroke-width="2.0" stroke-linejoin="miter"/>
<polyline points="293.50,212.65 374.32,152.69 455.14,108.29" fill="none" stroke="#000" stroke-width="2.0" stroke-dasharray="4.8,3.8" stroke-dashoffset="0" stroke-linejoin="miter"/>
<polyline points="293.50,218.67 374.32,178.57 455.14,148.92" fill="none" stroke="#000" stroke-width="2.0" stroke-dasharray="16,6.3,5.3,3.6" stroke-dashoffset="16.7" stroke-linejoin="miter"/>
<line x1="37.90" y1="350.40" x2="220.50" y2="350.40" stroke="#000" stroke-width="1.8" stroke-linecap="butt"/>
<line x1="37.90" y1="352.50" x2="51.90" y2="352.50" stroke="#000" stroke-width="1.9" stroke-dasharray="4.9,4.7" stroke-dashoffset="0"/>
<line x1="51.90" y1="352.50" x2="51.90" y2="371.70" stroke="#000" stroke-width="1.9" stroke-dasharray="6,3.4" stroke-dashoffset="0"/>
<line x1="51.00" y1="371.70" x2="219.30" y2="371.70" stroke="#000" stroke-width="1.9" stroke-dasharray="6,3.75" stroke-dashoffset="0"/>
<line x1="51.60" y1="372.50" x2="51.60" y2="527.00" stroke="#222" stroke-width="1" stroke-dasharray="4,2,1,2" stroke-linecap="butt"/>
<text x="116.82" y="349.40" font-family="Liberation Serif, serif" font-size="12.8" font-weight="normal" text-anchor="start" stroke="#000" stroke-width="0.3">9600/s</text>
<text x="117.35" y="370.10" font-family="Liberation Serif, serif" font-size="12.8" font-weight="normal" text-anchor="start" stroke="#000" stroke-width="0.3">1891/s</text>
<line x1="103.30" y1="423.10" x2="103.30" y2="439.30" stroke="#222" stroke-width="1" stroke-linecap="butt"/>
<line x1="99.60" y1="423.10" x2="107.00" y2="423.10" stroke="#222" stroke-width="1" stroke-linecap="butt"/>
<line x1="99.60" y1="439.30" x2="107.00" y2="439.30" stroke="#222" stroke-width="1" stroke-linecap="butt"/>
<line x1="103.30" y1="433.40" x2="103.30" y2="463.00" stroke="#222" stroke-width="1" stroke-linecap="butt"/>
<line x1="99.60" y1="433.40" x2="107.00" y2="433.40" stroke="#222" stroke-width="1" stroke-linecap="butt"/>
<line x1="99.60" y1="463.00" x2="107.00" y2="463.00" stroke="#222" stroke-width="1" stroke-linecap="butt"/>
<line x1="155.80" y1="409.50" x2="155.80" y2="430.60" stroke="#222" stroke-width="1" stroke-linecap="butt"/>
<line x1="152.10" y1="409.50" x2="159.50" y2="409.50" stroke="#222" stroke-width="1" stroke-linecap="butt"/>
<line x1="152.10" y1="430.60" x2="159.50" y2="430.60" stroke="#222" stroke-width="1" stroke-linecap="butt"/>
<line x1="155.80" y1="442.90" x2="155.80" y2="465.10" stroke="#222" stroke-width="1" stroke-linecap="butt"/>
<line x1="152.10" y1="442.90" x2="159.50" y2="442.90" stroke="#222" stroke-width="1" stroke-linecap="butt"/>
<line x1="152.10" y1="465.10" x2="159.50" y2="465.10" stroke="#222" stroke-width="1" stroke-linecap="butt"/>
<line x1="208.30" y1="404.40" x2="208.30" y2="420.30" stroke="#222" stroke-width="1" stroke-linecap="butt"/>
<line x1="204.60" y1="404.40" x2="212.00" y2="404.40" stroke="#222" stroke-width="1" stroke-linecap="butt"/>
<line x1="204.60" y1="420.30" x2="212.00" y2="420.30" stroke="#222" stroke-width="1" stroke-linecap="butt"/>
<line x1="208.30" y1="437.60" x2="208.30" y2="461.50" stroke="#222" stroke-width="1" stroke-linecap="butt"/>
<line x1="204.60" y1="437.60" x2="212.00" y2="437.60" stroke="#222" stroke-width="1" stroke-linecap="butt"/>
<line x1="204.60" y1="461.50" x2="212.00" y2="461.50" stroke="#222" stroke-width="1" stroke-linecap="butt"/>
<line x1="50.80" y1="440.80" x2="50.80" y2="470.80" stroke="#222" stroke-width="1" stroke-linecap="butt"/>
<line x1="47.10" y1="440.80" x2="54.50" y2="440.80" stroke="#222" stroke-width="1" stroke-linecap="butt"/>
<line x1="47.10" y1="470.80" x2="54.50" y2="470.80" stroke="#222" stroke-width="1" stroke-linecap="butt"/>
<polyline points="38.11,507.73 50.80,462.35 103.30,430.85 155.80,420.35 208.30,412.85" fill="none" stroke="#000" stroke-width="2.0" stroke-linejoin="miter"/>
<polyline points="50.80,454.48 103.30,448.10 155.80,454.10 208.30,449.60" fill="none" stroke="#000" stroke-width="2.0" stroke-dasharray="9,4.3" stroke-dashoffset="5.4" stroke-linejoin="miter"/>
<circle cx="38.11" cy="507.73" r="3.8" fill="#000" stroke="none" stroke-width="1"/>
<circle cx="50.80" cy="462.35" r="3.8" fill="#000" stroke="none" stroke-width="1"/>
<circle cx="103.30" cy="430.85" r="3.8" fill="#000" stroke="none" stroke-width="1"/>
<circle cx="155.80" cy="420.35" r="3.8" fill="#000" stroke="none" stroke-width="1"/>
<circle cx="208.30" cy="412.85" r="3.8" fill="#000" stroke="none" stroke-width="1"/>
<circle cx="50.80" cy="454.48" r="3.8" fill="#000" stroke="none" stroke-width="1"/>
<circle cx="103.30" cy="448.10" r="3.8" fill="#000" stroke="none" stroke-width="1"/>
<circle cx="155.80" cy="454.10" r="3.8" fill="#000" stroke="none" stroke-width="1"/>
<circle cx="208.30" cy="449.60" r="3.8" fill="#000" stroke="none" stroke-width="1"/>
<line x1="207.70" y1="396.00" x2="207.70" y2="401.80" stroke="#000" stroke-width="1.3" stroke-linecap="butt"/>
<line x1="205.19" y1="397.45" x2="210.21" y2="400.35" stroke="#000" stroke-width="1.3" stroke-linecap="butt"/>
<line x1="210.21" y1="397.45" x2="205.19" y2="400.35" stroke="#000" stroke-width="1.3" stroke-linecap="butt"/>
<polyline points="299.30,364.90 329.90,364.90 329.90,350.40 471.80,350.40" fill="none" stroke="#000" stroke-width="1.5" stroke-linejoin="miter"/>
<line x1="299.30" y1="378.00" x2="330.00" y2="378.00" stroke="#000" stroke-width="2.0" stroke-dasharray="5.2,4.4" stroke-dashoffset="0"/>
<line x1="329.90" y1="378.00" x2="329.90" y2="352.60" stroke="#000" stroke-width="2.0" stroke-dasharray="5.2,4.4" stroke-dashoffset="0"/>
<line x1="329.90" y1="352.60" x2="471.80" y2="352.60" stroke="#000" stroke-width="2.0" stroke-dasharray="5.4,4.4" stroke-dashoffset="1.3"/>
<line x1="329.40" y1="365.00" x2="329.40" y2="531.00" stroke="#222" stroke-width="1" stroke-dasharray="4,2,1,2" stroke-linecap="butt"/>
<text x="293.56" y="364.00" font-family="Liberation Serif, serif" font-size="12.8" font-weight="normal" text-anchor="start" stroke="#000" stroke-width="0.3">3251/s</text>
<text x="308.49" y="377.00" font-family="Liberation Serif, serif" font-size="12.8" font-weight="normal" text-anchor="start" stroke="#000" stroke-width="0.3">0/s</text>
<text x="381.72" y="349.60" font-family="Liberation Serif, serif" font-size="12.8" font-weight="normal" text-anchor="start" stroke="#000" stroke-width="0.3">9600/s</text>
<line x1="328.50" y1="481.04" x2="328.50" y2="520.24" stroke="#222" stroke-width="1" stroke-linecap="butt"/>
<line x1="325.25" y1="481.04" x2="331.75" y2="481.04" stroke="#222" stroke-width="1" stroke-linecap="butt"/>
<line x1="325.25" y1="520.24" x2="331.75" y2="520.24" stroke="#222" stroke-width="1" stroke-linecap="butt"/>
<line x1="375.81" y1="475.00" x2="375.81" y2="509.69" stroke="#222" stroke-width="1" stroke-linecap="butt"/>
<line x1="372.56" y1="475.00" x2="379.06" y2="475.00" stroke="#222" stroke-width="1" stroke-linecap="butt"/>
<line x1="372.56" y1="509.69" x2="379.06" y2="509.69" stroke="#222" stroke-width="1" stroke-linecap="butt"/>
<line x1="423.12" y1="463.69" x2="423.12" y2="504.41" stroke="#222" stroke-width="1" stroke-linecap="butt"/>
<line x1="419.87" y1="463.69" x2="426.37" y2="463.69" stroke="#222" stroke-width="1" stroke-linecap="butt"/>
<line x1="419.87" y1="504.41" x2="426.37" y2="504.41" stroke="#222" stroke-width="1" stroke-linecap="butt"/>
<line x1="470.43" y1="461.43" x2="470.43" y2="497.62" stroke="#222" stroke-width="1" stroke-linecap="butt"/>
<line x1="467.18" y1="461.43" x2="473.68" y2="461.43" stroke="#222" stroke-width="1" stroke-linecap="butt"/>
<line x1="467.18" y1="497.62" x2="473.68" y2="497.62" stroke="#222" stroke-width="1" stroke-linecap="butt"/>
<polyline points="297.75,508.18 328.50,500.64 375.81,492.35 423.12,484.05 470.43,479.53" fill="none" stroke="#000" stroke-width="2.0" stroke-linejoin="miter"/>
<polyline points="297.75,524.01 328.50,524.01" fill="none" stroke="#000" stroke-width="2.0" stroke-dasharray="8,4.6" stroke-dashoffset="6" stroke-linejoin="miter"/>
<polyline points="328.50,524.01 375.81,513.46 423.12,508.93 470.43,505.92" fill="none" stroke="#000" stroke-width="2.0" stroke-dasharray="8,4.6" stroke-dashoffset="6.8" stroke-linejoin="miter"/>
<circle cx="297.75" cy="508.18" r="3.8" fill="#000" stroke="none" stroke-width="1"/>
<circle cx="328.50" cy="500.64" r="3.8" fill="#000" stroke="none" stroke-width="1"/>
<circle cx="375.81" cy="492.35" r="3.8" fill="#000" stroke="none" stroke-width="1"/>
<circle cx="423.12" cy="484.05" r="3.8" fill="#000" stroke="none" stroke-width="1"/>
<circle cx="470.43" cy="479.53" r="3.8" fill="#000" stroke="none" stroke-width="1"/>
<rect x="293.95" y="520.21" width="7.6" height="7.6" fill="#000" stroke="none" stroke-width="1"/>
<rect x="324.70" y="520.21" width="7.6" height="7.6" fill="#000" stroke="none" stroke-width="1"/>
<rect x="372.01" y="509.66" width="7.6" height="7.6" fill="#000" stroke="none" stroke-width="1"/>
<rect x="419.32" y="505.13" width="7.6" height="7.6" fill="#000" stroke="none" stroke-width="1"/>
<rect x="466.63" y="502.12" width="7.6" height="7.6" fill="#000" stroke="none" stroke-width="1"/>
<line x1="512.80" y1="63.50" x2="512.80" y2="71.50" stroke="#eeeeee" stroke-width="0.8" stroke-linecap="butt"/>
<line x1="518.60" y1="63.50" x2="518.60" y2="71.50" stroke="#d6d6d6" stroke-width="1.0" stroke-linecap="butt"/>
</svg>
</body></html>
